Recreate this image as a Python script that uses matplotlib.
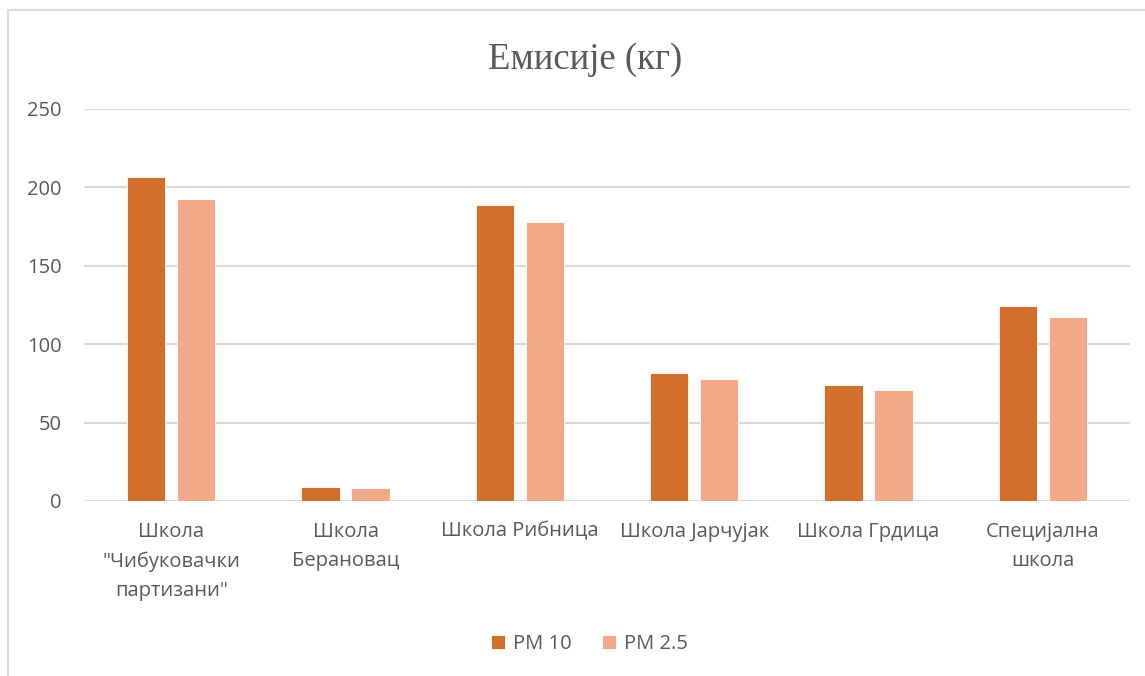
import matplotlib.pyplot as plt
import numpy as np
from matplotlib.patches import Rectangle

categories = ["Школа\n\"Чибуковачки\nпартизани\"", "Школа\nБерановац", "Школа Рибница",
              "Школа Јарчујак", "Школа Грдица", "Специјална\nшкола"]
pm10 = [206.5, 9.0, 188.5, 81.5, 74.2, 124.2]
pm25 = [192.6, 8.0, 177.8, 77.6, 71.0, 117.6]
series_names = ["PM 10", "PM 2.5"]

plt.rcParams['font.family'] = ['Open Sans', 'DejaVu Sans']

fig = plt.figure(figsize=(11.45, 6.76), dpi=100)
ax = fig.add_axes([0.0734, 0.2589, 0.9136, 0.5799])

x = np.arange(len(categories))
width = 0.22
offset = 0.143
ax.bar(x - offset, pm10, width, color="#D36F2B", edgecolor="white", linewidth=0.6,
       label=series_names[0], zorder=3)
ax.bar(x + offset, pm25, width, color="#F1A98A", edgecolor="white", linewidth=0.6,
       label=series_names[1], zorder=3)

ax.set_xlim(-0.5, len(categories) - 0.5)
ax.set_ylim(0, 250)
ax.set_yticks(range(0, 251, 50))
ax.yaxis.grid(True, color="#d9d9d9", linewidth=1.5, zorder=0)
ax.set_axisbelow(True)
for s in ax.spines.values():
    s.set_visible(False)
ax.tick_params(axis="both", length=0, colors="#595959", labelsize=14.5)
ax.tick_params(axis="y", pad=16)
ax.tick_params(axis="x", pad=15)
ax.set_xticks(x)
ax.set_xticklabels(categories, linespacing=1.6, va="top")

fig.text(0.511, 0.912, "Емисије (кг)", ha="center", va="center",
         family="Liberation Serif", fontsize=26.5, color="#595959")

ax.legend(loc="center", ncol=2, frameon=False, fontsize=14.5, labelcolor="#595959",
          handlelength=0.7, handleheight=0.7, handletextpad=0.4, columnspacing=1.5)
ax.get_legend().set_bbox_to_anchor((0.515, 0.047), transform=fig.transFigure)

# chart frame (cut off at right and bottom)
fig.patches.append(Rectangle((8 / 1145, -0.1), 1.2, 1 - 10 / 676 + 0.1,
                             transform=fig.transFigure, fill=False,
                             edgecolor="#d9d9d9", linewidth=1.5))

fig.savefig("out.png", dpi=100)
